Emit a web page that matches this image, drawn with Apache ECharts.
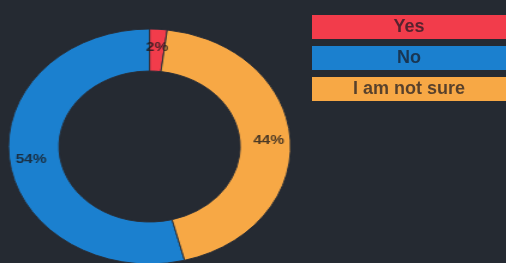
<!DOCTYPE html>
<html>
<head>
<meta charset="utf-8">
<script src="https://cdn.jsdelivr.net/npm/echarts@6/dist/echarts.min.js"></script>
<style>
  html, body { margin: 0; padding: 0; background: #252a32; overflow: hidden; }
  #wrap { position: relative; width: 506px; height: 263px; background: #252a32; }
  #pie { position: absolute; left: 0; top: 0; width: 421.67px; height: 263px;
         transform: scaleX(1.2); transform-origin: 0 0; }
  #leg { position: absolute; left: 0; top: 0; width: 506px; height: 263px; }
</style>
</head>
<body>
<div id="wrap"><div id="pie"></div><div id="leg"></div></div>
<script>
// ---- data ----
const categories = ['Yes', 'No', 'I am not sure'];
const values = [2, 54, 44];
const colors = ['#f23c4b', '#1b80cf', '#f7a845'];

const total = values.reduce((a, b) => a + b, 0);
const seriesData = categories.map((c, i) => ({ name: c, value: values[i], itemStyle: { color: colors[i] } }));

const pieChart = echarts.init(document.getElementById('pie'), null, { renderer: 'canvas' });
pieChart.setOption({
  backgroundColor: 'transparent',
  animation: false,
  series: [{
    type: 'pie',
    center: [124.6, 146.5],
    radius: [75.5, 117.5],
    clockwise: false,
    startAngle: 90 - 360 * values[0] / total,
    data: seriesData,
    itemStyle: { borderColor: '#2a2f38', borderWidth: 1 },
    label: {
      show: true,
      position: 'inside',
      formatter: p => p.value + '%',
      fontFamily: '"Liberation Sans", Arial, sans-serif',
      fontWeight: 'bold',
      fontSize: 13,
      color: 'rgba(25,25,30,0.78)'
    },
    labelLine: { show: false },
    emphasis: { scale: false }
  }]
});

const rich = {};
categories.forEach((c, i) => {
  rich['c' + i] = {
    backgroundColor: colors[i],
    width: 194,
    height: 24,
    lineHeight: 24,
    align: 'center',
    fontFamily: '"Liberation Sans", Arial, sans-serif',
    fontWeight: 'bold',
    fontSize: 18,
    color: 'rgba(25,25,35,0.72)'
  };
});

const legChart = echarts.init(document.getElementById('leg'), null, { renderer: 'canvas' });
legChart.setOption({
  backgroundColor: 'transparent',
  animation: false,
  legend: {
    orient: 'vertical',
    left: 302,
    top: 10,
    itemGap: 7,
    itemWidth: 0,
    itemHeight: 24,
    icon: 'none',
    data: categories,
    formatter: name => '{c' + categories.indexOf(name) + '|' + name + '}',
    textStyle: { rich: rich }
  },
  series: [{
    type: 'pie',
    radius: [0, 0],
    silent: true,
    label: { show: false },
    itemStyle: { opacity: 0 },
    data: seriesData
  }]
});
echarts.connect([pieChart, legChart]);
</script>
</body>
</html>
